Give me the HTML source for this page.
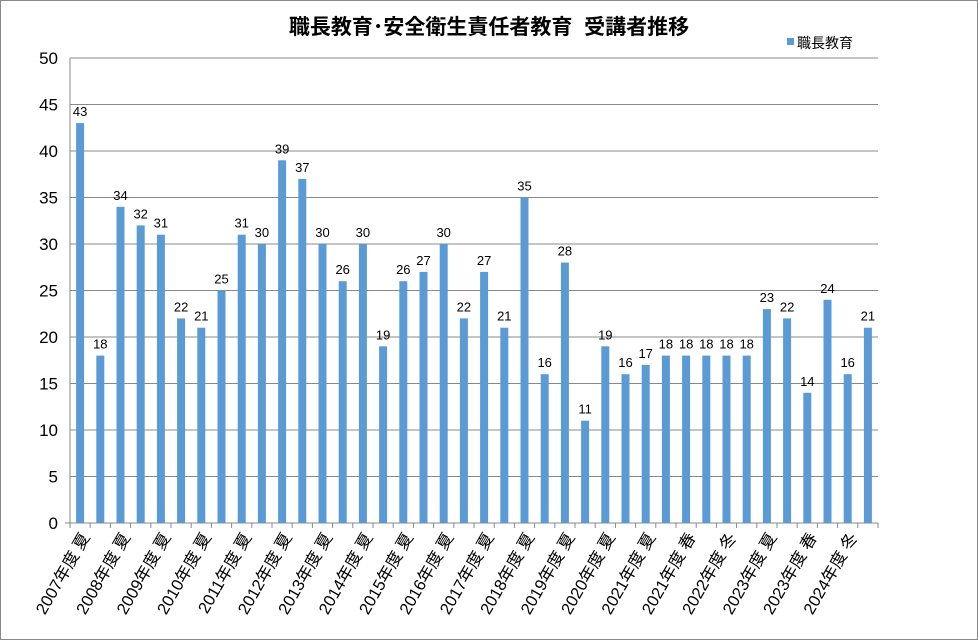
<!DOCTYPE html>
<html><head><meta charset="utf-8"><style>
body{margin:0;background:#fff}
svg{display:block;font-family:"Liberation Sans","Noto Sans CJK JP",sans-serif}
</style></head><body>
<svg width="978" height="640" viewBox="0 0 978 640">
<rect x="0.5" y="0.5" width="977" height="639" fill="#fff" stroke="#888"/>
<text x="489" y="34" text-anchor="middle" font-size="21" font-weight="bold" fill="#000" style="white-space:pre">職長教育･安全衛生責任者教育  受講者推移</text>
<rect x="787" y="38" width="7" height="7" fill="#5b9bd5"/>
<text x="797" y="48" font-size="14" fill="#000">職長教育</text>
<g id="g"></g>
</svg>
<script>
const v=[43,18,34,32,31,22,21,25,31,30,39,37,30,26,30,19,26,27,30,22,27,21,35,16,28,11,19,16,17,18,18,18,18,18,23,22,14,24,16,21];
const L=["2007年度 夏","2008年度 夏","2009年度 夏","2010年度 夏","2011年度 夏","2012年度 夏","2013年度 夏","2014年度 夏","2015年度 夏","2016年度 夏","2017年度 夏","2018年度 夏","2019年度 夏","2020年度 夏","2021年度 夏","2021年度 春","2022年度 冬","2023年度 夏","2023年度 春","2024年度 冬"];
const x0=70,x1=878,y0=523,yt=58,n=40,w=(x1-x0)/n;
let s="";
for(let i=0;i<=10;i++){const y=y0-(y0-yt)*i/10;
 if(i>0)s+=`<line x1="${x0}" x2="${x1}" y1="${y}" y2="${y}" stroke="#888" stroke-width="1"/>`;
 s+=`<text x="58" y="${y+6}" text-anchor="end" font-size="17">${i*5}</text>`;}
s+=`<line x1="${x0}" x2="${x0}" y1="${yt}" y2="${y0}" stroke="#888"/>`;
s+=`<line x1="${x0-5}" x2="${x1}" y1="${y0}" y2="${y0}" stroke="#888"/>`;
for(let i=0;i<=n;i++){const x=x0+i*w;s+=`<line x1="${x}" x2="${x}" y1="${y0}" y2="${y0+5}" stroke="#888"/>`;}
v.forEach((d,i)=>{const cx=x0+(i+0.5)*w,h=(y0-yt)*d/50;
 s+=`<rect x="${cx-4}" y="${y0-h}" width="8" height="${h}" fill="#5b9bd5"/>`;
 s+=`<text x="${cx}" y="${y0-h-7}" text-anchor="middle" font-size="13">${d}</text>`;});
L.forEach((t,k)=>{const cx=x0+(2*k+0.5)*w+5,y=534;
 s+=`<text transform="translate(${cx},${y}) rotate(-60)" text-anchor="end" font-size="16.5" dy="6">${t}</text>`;});
document.getElementById("g").innerHTML=s;
</script>
</body></html>
